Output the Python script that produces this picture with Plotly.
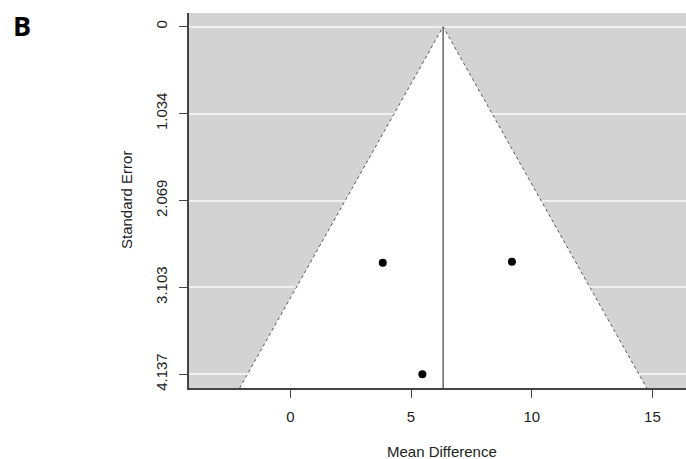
import plotly.graph_objects as go

# ---- data ----
mean_diff = [3.83, 9.18, 5.47]
std_err = [2.81, 2.797, 4.137]
pooled_estimate = 6.33
y_tick_vals = [0, 1.034, 2.069, 3.103, 4.137]
y_tick_text = ["0", "1.034", "2.069", "3.103", "4.137"]
x_tick_vals = [0, 5, 10, 15]
x_tick_text = ["0", "5", "10", "15"]

W, H = 686, 459
L, T, R, B = 189, 13, 0, 71
x_range = [-4.196, 16.39]
y_range = [4.300, -0.163]
se_bottom = y_range[0]
z = 1.96

fig = go.Figure()

# funnel (white region)
left_x = pooled_estimate - z * se_bottom
right_x = pooled_estimate + z * se_bottom
fig.add_trace(go.Scatter(
    x=[left_x, pooled_estimate, right_x, left_x],
    y=[se_bottom, 0, se_bottom, se_bottom],
    fill="toself", fillcolor="white", mode="none",
    hoverinfo="skip", showlegend=False))
# dotted funnel boundaries
fig.add_trace(go.Scatter(
    x=[left_x, pooled_estimate, right_x],
    y=[se_bottom, 0, se_bottom],
    mode="lines", line=dict(color="#555555", width=1, dash="dot"),
    hoverinfo="skip", showlegend=False))
# vertical pooled line
fig.add_trace(go.Scatter(
    x=[pooled_estimate, pooled_estimate], y=[0, se_bottom],
    mode="lines", line=dict(color="#6e6e6e", width=1.6),
    hoverinfo="skip", showlegend=False))
# studies
fig.add_trace(go.Scatter(
    x=mean_diff, y=std_err, mode="markers",
    marker=dict(color="black", size=8),
    showlegend=False))

font_family = "Liberation Sans, Arial, sans-serif"

fig.update_layout(
    width=W, height=H,
    margin=dict(l=L, r=R, t=T, b=B),
    paper_bgcolor="white", plot_bgcolor="#d3d3d3",
    font=dict(family=font_family, size=15, color="#222222"),
    xaxis=dict(range=x_range, tickvals=x_tick_vals, ticktext=x_tick_text,
               showgrid=False, zeroline=False, showline=True,
               linecolor="#444444", linewidth=1.5, ticks="outside",
               ticklen=8, tickcolor="#444444", tickwidth=1,
               ticklabelstandoff=6, fixedrange=True),
    yaxis=dict(range=y_range, tickvals=y_tick_vals, ticktext=y_tick_text,
               showgrid=True, gridcolor="#f0f0f0", gridwidth=1.5,
               zeroline=False, showline=True,
               linecolor="#444444", linewidth=1.5, ticks="outside",
               ticklen=8, tickcolor="#444444", tickwidth=1,
               tickangle=-90, ticklabelstandoff=6, fixedrange=True),
)

pw = W - L - R
ph = H - T - B
def px(x):
    return (x - L) / pw
def py(y):
    return 1 - (y - T) / ph

fig.add_annotation(text="Mean Difference", x=px(442), y=py(451),
                   xref="paper", yref="paper", showarrow=False,
                   xanchor="center", yanchor="middle",
                   font=dict(size=15, family=font_family, color="#222222"))
fig.add_annotation(text="Standard Error", x=px(127), y=py(200),
                   xref="paper", yref="paper", showarrow=False,
                   textangle=-90, xanchor="center", yanchor="middle",
                   font=dict(size=15, family=font_family, color="#222222"))
fig.add_annotation(text="<b>B</b>", x=px(11), y=py(26),
                   xref="paper", yref="paper", showarrow=False,
                   xanchor="left", yanchor="middle",
                   font=dict(size=27, family="Open Sans, Noto Sans, sans-serif", color="black"))

fig.write_html("out.html")
